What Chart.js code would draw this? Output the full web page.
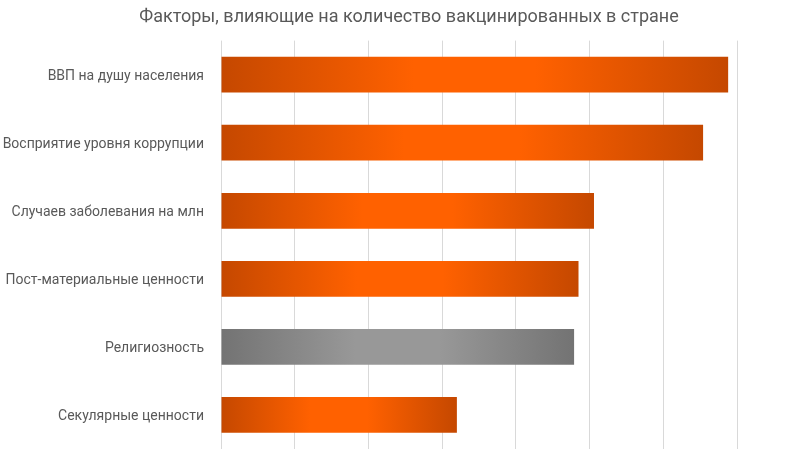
<!DOCTYPE html>
<html>
<head>
<meta charset="utf-8">
<script src="https://cdn.jsdelivr.net/npm/chart.js@4/dist/chart.umd.min.js"></script>
<style>
  html, body { margin: 0; padding: 0; background: #ffffff; }
  #wrap { width: 800px; height: 459px; position: relative; }
</style>
</head>
<body>
<div id="wrap"><canvas id="c"></canvas></div>
<script>
const titleText = 'Факторы, влияющие на количество вакцинированных в стране';
const categories = [
  'ВВП на душу населения',
  'Восприятие уровня коррупции',
  'Случаев заболевания на млн',
  'Пост-материальные ценности',
  'Религиозность',
  'Секулярные ценности'
];
const values = [0.688, 0.654, 0.506, 0.485, 0.479, 0.320];
const highlightIndex = [4];   // grey bar
const xMin = 0, xMax = 0.7, xStep = 0.1;

const orange = { edge: '#C54800', mid: '#FF6100' };
const grey   = { edge: '#737373', mid: '#989898' };

function barFill(ctx) {
  const chart = ctx.chart;
  const pal = highlightIndex.includes(ctx.dataIndex) ? grey : orange;
  const xs = chart.scales && chart.scales.x;
  if (ctx.type !== 'data' || !xs || !isFinite(xs.left)) return pal.mid;
  const x0 = xs.getPixelForValue(0);
  const x1 = xs.getPixelForValue(values[ctx.dataIndex]);
  if (!isFinite(x0) || !isFinite(x1) || x1 === x0) return pal.mid;
  const g = chart.ctx.createLinearGradient(x0, 0, x1, 0);
  g.addColorStop(0, pal.edge);
  g.addColorStop(0.38, pal.mid);
  g.addColorStop(0.62, pal.mid);
  g.addColorStop(1, pal.edge);
  return g;
}

function noPad(scale) {
  scale.paddingTop = 0;
  scale.paddingBottom = 0;
}

new Chart(document.getElementById('c'), {
  type: 'bar',
  data: {
    labels: categories,
    datasets: [{
      data: values,
      backgroundColor: barFill,
      borderWidth: 0,
      barPercentage: 0.525,
      categoryPercentage: 1.0
    }]
  },
  options: {
    indexAxis: 'y',
    responsive: true,
    maintainAspectRatio: false,
    animation: false,
    layout: { padding: { left: 0, right: -18, top: 0, bottom: 10 } },
    plugins: {
      legend: { display: false },
      tooltip: { enabled: false },
      title: {
        display: true,
        text: titleText,
        color: '#595959',
        font: { family: 'Roboto', size: 18, weight: 'normal' },
        padding: { top: 7, bottom: 12 }
      }
    },
    scales: {
      x: {
        min: xMin, max: xMax,
        ticks: { display: false, stepSize: xStep },
        grid: { color: '#D9D9D9', lineWidth: 1, drawTicks: false },
        border: { display: false },
        afterFit: (scale) => { scale.height = 0; scale.paddingLeft = 0; scale.paddingRight = 0; }
      },
      y: {
        grid: { display: false, drawTicks: false },
        border: { display: false },
        ticks: {
          color: '#595959',
          padding: 17,
          labelOffset: 2,
          font: { family: 'Roboto', size: 14 }
        },
        afterFit: (scale) => { scale.width = 221; noPad(scale); }
      },
      yR: {
        type: 'linear',
        position: 'right',
        display: true,
        ticks: { display: false },
        grid: { display: false, drawTicks: false },
        border: { display: false },
        afterFit: (scale) => { scale.width = 81; noPad(scale); }
      }
    }
  }
});
</script>
</body>
</html>
